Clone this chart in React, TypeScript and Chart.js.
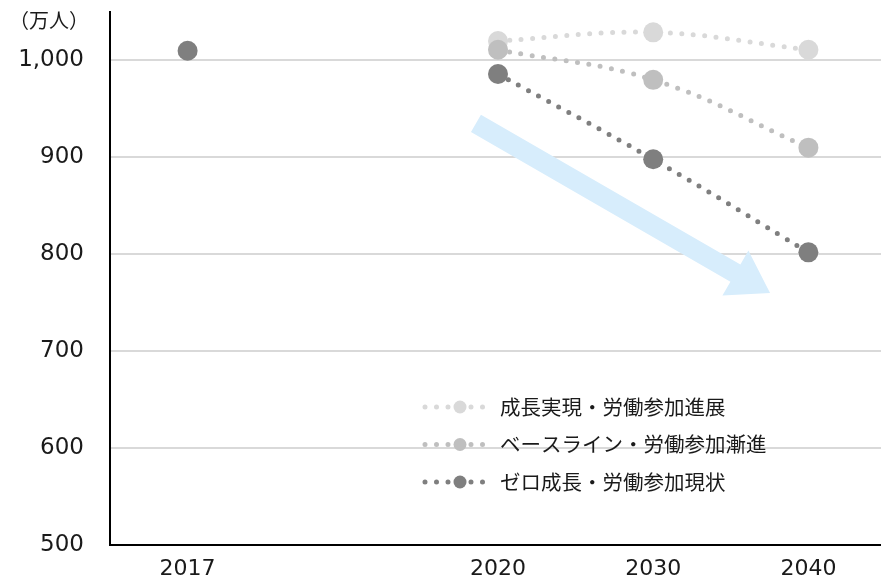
import React, { useEffect, useRef } from 'react';
import { Chart, registerables } from 'chart.js';

Chart.register(...registerables);

// ---- data ----
const categories = ['2017', '', '2020', '2030', '2040'];
const seriesNames = ['成長実現・労働参加進展', 'ベースライン・労働参加漸進', 'ゼロ成長・労働参加現状'];
const growthValues = [null, null, 1020, 1029, 1011];
const baselineValues = [null, null, 1011, 980, 910];
const zeroGrowthValues = [1010, null, 986, 898, 802];
const seriesColors = ['#d9d9d9', '#bfbfbf', '#7f7f7f'];
const yTickValues = [500, 600, 700, 800, 900, 1000];
const yMin = 500;
const yMax = 1050;
const unitLabel = '（万人）';
// trend arrow, in data units (category index, value)
const arrowFrom = { x: 1.858, y: 935 };
const arrowTo = { x: 3.753, y: 760 };

const TICK_FONT = "'DejaVu Sans', 'Noto Sans', sans-serif";
const JP_FONT = "'Noto Sans CJK JP', 'Noto Sans', sans-serif";

const decorPlugin = {
  id: 'decor',
  beforeDatasetsDraw(chart: any) {
    const { ctx, scales } = chart;
    const xs = scales.x, ys = scales.y;
    const sx = xs.getPixelForValue(arrowFrom.x), sy = ys.getPixelForValue(arrowFrom.y);
    const tx = xs.getPixelForValue(arrowTo.x), ty = ys.getPixelForValue(arrowTo.y);
    const dx = tx - sx, dy = ty - sy;
    const len = Math.hypot(dx, dy);
    const ux = dx / len, uy = dy / len;
    const nx = -uy, ny = ux;
    const w = 10, hw = 26, hl = 40;
    const bx = tx - ux * hl, by = ty - uy * hl;
    ctx.save();
    ctx.fillStyle = '#d7edfc';
    ctx.beginPath();
    ctx.moveTo(sx + nx * w, sy + ny * w);
    ctx.lineTo(bx + nx * w, by + ny * w);
    ctx.lineTo(bx + nx * hw, by + ny * hw);
    ctx.lineTo(tx, ty);
    ctx.lineTo(bx - nx * hw, by - ny * hw);
    ctx.lineTo(bx - nx * w, by - ny * w);
    ctx.lineTo(sx - nx * w, sy - ny * w);
    ctx.closePath();
    ctx.fill();
    ctx.restore();
  },
  afterDraw(chart: any) {
    const { ctx } = chart;
    ctx.save();
    // unit label
    ctx.fillStyle = '#1a1a1a';
    ctx.font = `20px ${JP_FONT}`;
    ctx.textAlign = 'center';
    ctx.textBaseline = 'middle';
    ctx.fillText(unitLabel, 49, 20);
    // legend
    const lx0 = 425, lx1 = 490, lyc = 460;
    const rowY0 = 407, rowGap = 37.5;
    seriesNames.forEach((name, i) => {
      const y = rowY0 + i * rowGap;
      ctx.strokeStyle = seriesColors[i];
      ctx.lineWidth = 5;
      ctx.lineCap = 'round';
      ctx.setLineDash([0, 11.5]);
      ctx.beginPath();
      ctx.moveTo(lx0, y);
      ctx.lineTo(lx1, y);
      ctx.stroke();
      ctx.setLineDash([]);
      ctx.fillStyle = seriesColors[i];
      ctx.beginPath();
      ctx.arc(lyc, y, 6.5, 0, Math.PI * 2);
      ctx.fill();
      ctx.fillStyle = '#1a1a1a';
      ctx.font = `20.5px ${JP_FONT}`;
      ctx.textAlign = 'left';
      ctx.textBaseline = 'middle';
      ctx.fillText(name, 500, y);
    });
    ctx.restore();
  },
};

export default function App() {
  const ref = useRef<HTMLCanvasElement | null>(null);

  useEffect(() => {
    if (!ref.current) return;
    const values = [growthValues, baselineValues, zeroGrowthValues];
    const chart = new Chart(ref.current, {
      type: 'line',
      data: {
        labels: categories,
        datasets: values.map((v, i) => ({
          label: seriesNames[i],
          data: v,
          borderColor: seriesColors[i],
          backgroundColor: seriesColors[i],
          borderWidth: 5,
          borderDash: [0, 11.5],
          borderCapStyle: 'round',
          pointRadius: 10,
          pointHoverRadius: 10,
          pointBorderWidth: 0,
          pointBackgroundColor: seriesColors[i],
          tension: 0.4,
          spanGaps: false,
          order: 2 - i,
        })),
      },
      options: {
        animation: false,
        responsive: false,
        layout: { autoPadding: false, padding: { top: 12, right: 0, left: 0, bottom: 0 } },
        plugins: {
          legend: { display: false },
          tooltip: { enabled: false },
        },
        scales: {
          x: {
            type: 'category',
            offset: true,
            grid: { display: false, drawTicks: false },
            border: { display: true, color: '#000', width: 2 },
            ticks: {
              color: '#1a1a1a',
              font: { family: TICK_FONT, size: 22 },
              padding: 11,
              maxRotation: 0,
              autoSkip: false,
            },
            afterFit(scale: any) {
              scale.height = 37;
              scale.paddingLeft = 0;
              scale.paddingRight = 0;
            },
          },
          y: {
            min: yMin,
            max: yMax,
            grid: {
              drawTicks: false,
              lineWidth: 2,
              color: (c: any) => (c.tick && c.tick.value === yMin ? 'rgba(0,0,0,0)' : '#d9d9d9'),
            },
            border: { display: true, color: '#000', width: 2 },
            ticks: {
              color: '#1a1a1a',
              font: { family: TICK_FONT, size: 23 },
              padding: 26,
              callback: (v: any) => Number(v).toLocaleString('en-US'),
            },
            afterBuildTicks(scale: any) {
              scale.ticks = yTickValues.map((value) => ({ value }));
            },
            afterFit(scale: any) {
              scale.width = 110;
              scale.paddingTop = 0;
              scale.paddingBottom = 0;
            },
          },
        },
      },
      plugins: [decorPlugin],
    } as any);
    return () => chart.destroy();
  }, []);

  return (
    <div
      style={{
        position: 'fixed',
        left: 0,
        top: 0,
        width: 881,
        height: 582,
        overflow: 'hidden',
        background: '#fff',
      }}
    >
      <canvas ref={ref} width={886} height={582} style={{ display: 'block' }} />
    </div>
  );
}
